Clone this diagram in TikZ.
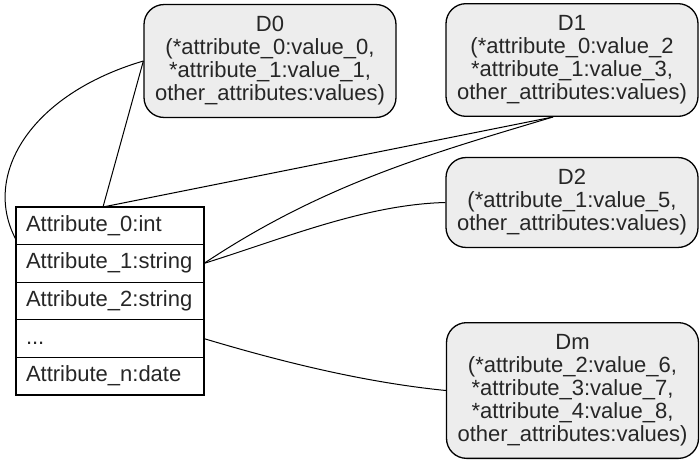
\documentclass[tikz,border=0pt]{standalone}
\usepackage{fontspec}
\setmainfont{Liberation Sans}
\usetikzlibrary{positioning}

\begin{document}
\begin{tikzpicture}[
  x=1pt, y=-1pt,
  docbox/.style={rectangle, draw, line width=1.3pt, rounded corners=20pt,
    fill=gray!14, minimum width=252pt, inner ysep=12pt, align=center,
    text=black!85, font=\fontsize{22}{23}\selectfont},
  field/.style={rectangle, draw, line width=1.3pt, minimum width=188pt,
    minimum height=37.6pt, text width=168pt, inner xsep=10pt, outer sep=0pt,
    text height=16pt, text depth=5pt, align=left, text=black!85,
    font=\fontsize{22}{23}\selectfont},
  link/.style={draw, line width=1pt},
]
  \useasboundingbox (0,0) rectangle (700,463);

  % attribute table
  \node[field] (a0) at (110,225.8) {Attribute\_0:int};
  \node[field, below=0pt of a0] (a1) {Attribute\_1:string};
  \node[field, below=0pt of a1] (a2) {Attribute\_2:string};
  \node[field, below=0pt of a2] (a3) {...};
  \node[field, below=0pt of a3] (an) {Attribute\_n:date};

  % documents
  \node[docbox] (d0) at (270,61)
    {D0\\(*attribute\_0:value\_0,\\*attribute\_1:value\_1,\\other\_attributes:values)};
  \node[docbox] (d1) at (572,60)
    {D1\\(*attribute\_0:value\_2\\*attribute\_1:value\_3,\\other\_attributes:values)};
  \node[docbox] (d2) at (572,202.5)
    {D2\\(*attribute\_1:value\_5,\\other\_attributes:values)};
  \node[docbox] (dm) at (572.5,390.5)
    {Dm\\(*attribute\_2:value\_6,\\*attribute\_3:value\_7,\\*attribute\_4:value\_8,\\other\_attributes:values)};

  % links
  \draw[link] (d0.west) .. controls +(-115,34) and +(-34,-63) .. ([yshift=5pt]a0.south west);
  \draw[link] (d0.west) -- ([xshift=-7pt]a0.north);
  \draw[link] ([xshift=-19pt]d1.south) -- ([xshift=-7pt]a0.north);
  \draw[link] ([xshift=-19pt]d1.south) .. controls +(-120,36) and +(120,-80) .. (a1.east);
  \draw[link] (d2.west) .. controls +(-80,2) and +(80,-25) .. (a1.east);
  \draw[link] (dm.west) .. controls +(-80,-8) and +(80,24) .. (a3.east);
\end{tikzpicture}
\end{document}
